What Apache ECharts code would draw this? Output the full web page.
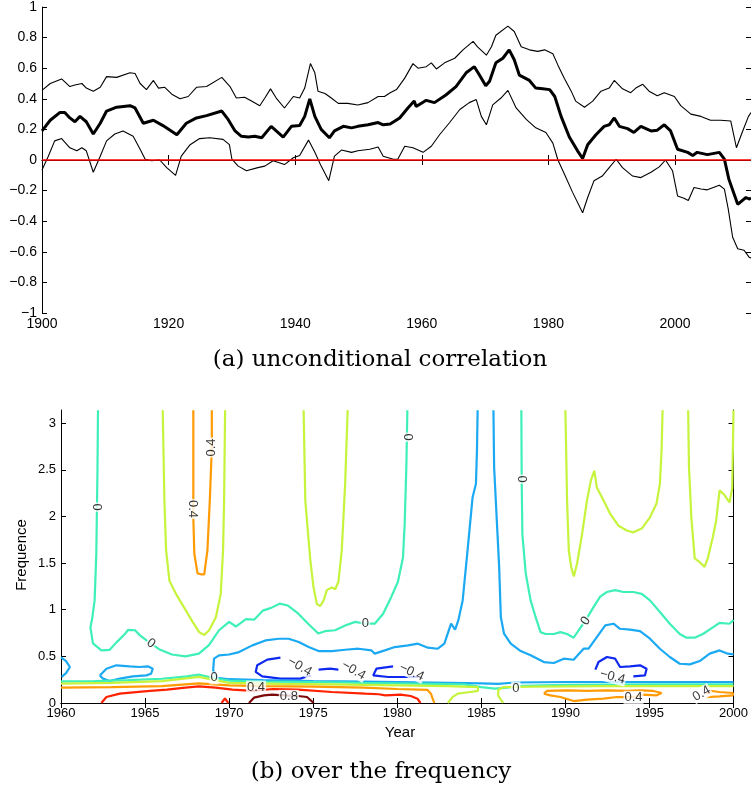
<!DOCTYPE html>
<html>
<head>
<meta charset="utf-8">
<script src="https://cdn.jsdelivr.net/npm/echarts/dist/echarts.min.js"></script>
<style>
  html, body { margin: 0; padding: 0; background: #fff; }
  #chart { width: 751px; height: 792px; }
</style>
</head>
<body>
<div id="chart"></div>
<script>
// ---- panel (a): unconditional correlation ----
const midYears = [1900,1901.3,1902.8,1903.6,1904.4,1905.2,1906,1907,1908.1,1909.2,1910.2,1911.8,1913.9,1914.7,1916,1917.6,1919.1,1921.3,1922.8,1924.4,1926,1928.4,1929.4,1930.5,1931.5,1932.6,1933.6,1934.7,1936.2,1937,1938.1,1939.4,1940.7,1941.5,1942.3,1943.1,1944.1,1945.4,1946.2,1947.6,1948.9,1949.9,1951.5,1953.1,1953.9,1955,1956.5,1957.8,1958.8,1959.1,1960.7,1962,1963.8,1965.4,1967,1968.3,1969.1,1970.1,1970.7,1971.7,1972.8,1973.8,1974.6,1975.4,1977,1978,1979.1,1980.2,1981,1982,1983.3,1984.6,1985.4,1986.2,1987.5,1988.8,1989.6,1990.4,1991.2,1992.5,1993.5,1994.6,1996.2,1997.2,1998.3,1999.3,2000.4,2002,2002.8,2003.5,2005.1,2007,2007.8,2008.5,2009.9,2010.6,2011.2,2011.7,2012];
const midVals = [0.19,0.26,0.31,0.31,0.275,0.25,0.285,0.25,0.17,0.24,0.32,0.345,0.355,0.34,0.24,0.26,0.225,0.165,0.24,0.275,0.29,0.32,0.265,0.19,0.155,0.15,0.155,0.145,0.22,0.19,0.15,0.22,0.225,0.285,0.4,0.285,0.2,0.145,0.19,0.22,0.21,0.22,0.23,0.245,0.23,0.235,0.275,0.34,0.385,0.35,0.39,0.375,0.425,0.48,0.57,0.61,0.555,0.485,0.515,0.635,0.665,0.72,0.655,0.555,0.52,0.47,0.465,0.46,0.415,0.285,0.15,0.06,0.01,0.1,0.165,0.22,0.23,0.275,0.22,0.205,0.18,0.22,0.19,0.195,0.23,0.19,0.07,0.05,0.03,0.05,0.035,0.05,0.005,-0.125,-0.29,-0.265,-0.245,-0.255,-0.25];

const upYears = [1900,1901.3,1903.1,1904.4,1905.2,1906.3,1907,1908.1,1909.2,1910.2,1911.8,1913.9,1914.7,1915.5,1916.5,1917.6,1918.4,1919.4,1920.5,1921.8,1923.1,1924.4,1926,1928.4,1929.7,1930.7,1932,1933.1,1934.4,1935.2,1936.1,1937,1938.3,1939.7,1940.7,1941.5,1942.4,1943.1,1943.6,1944.7,1945.7,1946.8,1948.3,1949.9,1951.5,1953.1,1954.1,1955,1956,1957.3,1958.6,1959.4,1960.7,1961.5,1962.3,1963.6,1965.2,1966.5,1968.1,1968.8,1970.2,1971,1971.7,1973.6,1974.6,1975.7,1977,1978.3,1979.4,1980.7,1981.5,1982.5,1983.6,1984.3,1985.7,1987,1988.3,1989.6,1990.4,1991.7,1993,1993.8,1994.9,1995.9,1997.2,1998.3,1999.9,2000.9,2002.5,2004.1,2005.6,2007.2,2008.8,2009.7,2010.6,2011.6,2012];
const upVals = [0.455,0.5,0.53,0.48,0.49,0.5,0.47,0.45,0.475,0.545,0.54,0.57,0.565,0.5,0.46,0.52,0.47,0.475,0.43,0.4,0.415,0.475,0.48,0.54,0.48,0.405,0.41,0.385,0.355,0.405,0.465,0.405,0.34,0.415,0.405,0.47,0.63,0.57,0.45,0.435,0.405,0.37,0.37,0.36,0.375,0.415,0.415,0.44,0.46,0.535,0.63,0.6,0.61,0.635,0.595,0.635,0.665,0.72,0.775,0.74,0.685,0.74,0.815,0.875,0.84,0.74,0.72,0.71,0.72,0.695,0.62,0.535,0.45,0.385,0.345,0.385,0.45,0.47,0.52,0.465,0.44,0.47,0.495,0.45,0.42,0.44,0.415,0.355,0.3,0.285,0.26,0.26,0.255,0.08,0.18,0.285,0.31];

const lowYears = [1900,1901,1902,1903.1,1904.4,1905.5,1906.3,1907,1908.1,1909.2,1910.2,1911.5,1912.8,1914.4,1915.5,1916.3,1917.3,1918.6,1919.7,1921.1,1922,1923.4,1924.9,1926.5,1928.6,1929.6,1930,1931,1932.3,1934.1,1935.2,1936.5,1937.6,1938.3,1939.7,1940.7,1942.1,1943.1,1944.1,1945.3,1946.2,1947.3,1948.9,1949.9,1951.8,1953.1,1953.9,1955.5,1956.2,1957.3,1958.6,1960.2,1961.5,1962.8,1964.4,1966,1967.5,1968.6,1969.4,1970.2,1971.2,1972.5,1973.6,1974.9,1976.5,1978,1979.6,1980.7,1981.5,1982.5,1983.8,1985.4,1986.2,1987.2,1988.5,1989.6,1990.7,1991.7,1993.3,1994.6,1996.2,1997.5,1998.5,1999.6,2000.4,2001.4,2002.1,2003,2004.1,2005.1,2007,2007.8,2008.4,2009.1,2009.9,2010.9,2011.7,2012];
const lowVals = [-0.065,0.025,0.125,0.14,0.08,0.06,0.08,0.06,-0.08,0.025,0.125,0.17,0.19,0.155,0.07,0.005,-0.005,0,-0.05,-0.1,0.025,0.1,0.14,0.145,0.135,0.1,0.005,-0.04,-0.07,-0.05,-0.04,-0.005,-0.02,-0.03,0.015,0.03,0.13,0.05,-0.04,-0.135,0.025,0.065,0.05,0.06,0.07,0.085,0.025,0.005,0.005,0.09,0.08,0.05,0.09,0.165,0.245,0.33,0.375,0.395,0.285,0.23,0.36,0.405,0.455,0.34,0.265,0.21,0.18,0.11,0,-0.09,-0.21,-0.345,-0.245,-0.135,-0.105,-0.05,0.005,-0.05,-0.105,-0.115,-0.08,-0.045,0,-0.07,-0.235,-0.25,-0.265,-0.18,-0.19,-0.195,-0.165,-0.19,-0.32,-0.505,-0.58,-0.59,-0.635,-0.64];

const xTicksA = [1900, 1920, 1940, 1960, 1980, 2000];
const yTicksA = [-1, -0.8, -0.6, -0.4, -0.2, 0, 0.2, 0.4, 0.6, 0.8, 1];

// ---- panel (b): contour lines over the frequency, [year, frequency] ----
const lvlNeg04 = [
  [[1973.05,0.486],[1972.27,0.465],[1971.67,0.404],[1971.58,0.333],[1971.97,0.286],[1973.05,0.261],[1974.24,0.261],[1974.83,0.297]],
  [[1975.32,0.357],[1976.0,0.368],[1976.5,0.357]],
  [[1979.75,0.393],[1978.76,0.368],[1978.57,0.296],[1979.45,0.279],[1981.23,0.279]],
  [[1991.78,0.357],[1991.97,0.44],[1992.47,0.493],[1992.96,0.475],[1993.25,0.386],[1993.85,0.393],[1994.44,0.404],[1994.83,0.368],[1994.73,0.296],[1994.04,0.286]]
];
const lvlNeg02 = [
  [[2000,0.225],[1995,0.225],[1990,0.225],[1987,0.22],[1986,0.205],[1985,0.21],[1982,0.22],[1978,0.23],[1975,0.235],[1972,0.245],[1970,0.255],[1969.3,0.27],[1969.05,0.35],[1969.1,0.475],[1969.4,0.51],[1970.0,0.52],[1970.59,0.546],[1971.38,0.618],[1972.16,0.671],[1972.95,0.689],[1973.54,0.689],[1974.14,0.654],[1974.73,0.6],[1975.32,0.557],[1976.11,0.557],[1976.9,0.571],[1977.69,0.582],[1978.47,0.564],[1978.66,0.529],[1979.26,0.564],[1979.85,0.6],[1980.64,0.618],[1981.23,0.636],[1981.82,0.593],[1982.41,0.582],[1982.8,0.636],[1983.0,0.743],[1983.2,0.85],[1983.44,0.786],[1983.63,0.886],[1983.89,1.1],[1984.18,1.636],[1984.48,2.207],[1984.68,2.35],[1984.74,2.707],[1984.78,3.14]],
  [[1985.72,3.14],[1985.76,2.53],[1986.06,1.457],[1986.16,0.921],[1986.35,0.743],[1986.75,0.636],[1987.34,0.557],[1987.93,0.511],[1988.72,0.439],[1989.31,0.429],[1989.9,0.475],[1990.49,0.464],[1991.08,0.582],[1991.38,0.582],[1991.87,0.707],[1992.37,0.832],[1992.86,0.85],[1993.25,0.796],[1993.85,0.786],[1994.44,0.771],[1995.03,0.689],[1995.62,0.582],[1996.21,0.493],[1996.8,0.421],[1997.4,0.414],[1997.99,0.45],[1998.58,0.529],[1999.17,0.564],[1999.66,0.529],[2000,0.521]],
  [[1960,0.49],[1960.3,0.45],[1960.53,0.386],[1960.3,0.32],[1960.04,0.28]],
  [[1962.31,0.296],[1962.7,0.368],[1963.29,0.404],[1964.08,0.393],[1964.67,0.386],[1965.17,0.393],[1965.46,0.368],[1965.36,0.314],[1965.07,0.296],[1964.28,0.286],[1963.49,0.261],[1962.9,0.236],[1962.5,0.261],[1962.31,0.296]]
];
const lvlZero = [
  [[1962.2,3.14],[1962.17,2.5],[1962.1,1.6],[1962.0,1.1],[1961.85,0.9],[1961.75,0.81],[1961.9,0.64],[1962.4,0.565],[1962.9,0.57],[1963.3,0.65],[1963.8,0.74],[1964.0,0.785],[1964.4,0.78],[1964.7,0.725],[1965.2,0.655],[1965.9,0.57],[1966.6,0.52],[1967.4,0.5],[1968.2,0.53],[1968.8,0.62],[1969.4,0.78],[1970.0,0.87],[1970.4,0.82],[1971.0,0.9],[1971.5,0.895],[1972.0,0.99],[1972.5,1.02],[1973.0,1.065],[1973.5,1.045],[1974.1,0.96],[1974.7,0.85],[1975.3,0.745],[1975.7,0.77],[1976.3,0.78],[1976.9,0.83],[1977.5,0.87],[1978.1,0.85],[1978.66,0.85],[1979.16,0.957],[1979.65,1.14],[1980.04,1.3],[1980.34,1.56],[1980.44,1.92],[1980.54,2.53],[1980.6,3.14]],
  [[1987.38,3.14],[1987.4,2.4],[1987.44,1.81],[1987.64,1.39],[1987.93,1.1],[1988.23,0.92],[1988.52,0.76],[1988.82,0.74],[1989.31,0.74],[1989.7,0.76],[1990.1,0.74],[1990.49,0.7],[1990.79,0.78],[1991.18,0.88],[1991.68,1.03],[1992.07,1.14],[1992.47,1.19],[1992.96,1.21],[1993.45,1.19],[1994.04,1.19],[1994.54,1.17],[1995.03,1.1],[1995.62,0.975],[1996.21,0.85],[1996.8,0.74],[1997.2,0.7],[1997.69,0.7],[1998.18,0.74],[1998.77,0.81],[1999.17,0.86],[1999.76,0.85],[2000,0.89]],
  [[1960,0.232],[1962,0.235],[1964,0.245],[1966,0.26],[1967.5,0.285],[1968.2,0.305],[1969,0.27],[1970,0.24],[1972,0.23],[1975,0.225],[1978,0.215],[1980,0.21],[1982,0.205],[1984,0.2],[1985,0.17],[1985.8,0.155],[1986.5,0.165],[1987.5,0.185],[1990,0.195],[1995,0.2],[2000,0.2]]
];
const lvl02 = [
  [[1966.05,3.14],[1966.15,2.17],[1966.25,1.64],[1966.45,1.31],[1966.84,1.17],[1967.43,0.99],[1967.83,0.87],[1968.22,0.76],[1968.52,0.73],[1968.81,0.78],[1969.21,0.92],[1969.5,1.17],[1969.64,1.64],[1969.7,2.17],[1969.76,3.14]],
  [[1974.43,3.14],[1974.53,2.17],[1974.83,1.53],[1975.02,1.24],[1975.22,1.06],[1975.42,1.04],[1975.62,1.1],[1975.81,1.21],[1976.11,1.24],[1976.31,1.22],[1976.5,1.3],[1976.7,1.64],[1976.9,2.35],[1977.05,3.14]],
  [[1990.0,3.14],[1990.1,2.17],[1990.2,1.64],[1990.34,1.46],[1990.5,1.357],[1990.69,1.49],[1990.99,1.81],[1991.28,2.17],[1991.52,2.39],[1991.72,2.49],[1991.87,2.31],[1992.27,2.17],[1992.66,2.03],[1993.16,1.9],[1993.65,1.85],[1994.04,1.83],[1994.54,1.87],[1995.03,1.99],[1995.42,2.14],[1995.62,2.35],[1995.72,2.71],[1995.78,3.14]],
  [[1997.3,3.14],[1997.35,2.53],[1997.49,1.99],[1997.69,1.55],[1997.99,1.51],[1998.28,1.46],[1998.48,1.56],[1998.77,1.78],[1998.97,1.96],[1999.17,2.28],[1999.46,2.23],[1999.76,2.15],[1999.92,2.3],[2000,3.14]],
  [[1960,0.207],[1963,0.215],[1966,0.235],[1968.2,0.28],[1969,0.25],[1970,0.215],[1973,0.205],[1976,0.2],[1980,0.19],[1983,0.18],[1984.8,0.17],[1984.8,0.13],[1984,0.11],[1983.6,0.1],[1983.3,0.065],[1983.0,0]],
  [[1986.3,0],[1986.0,0.08],[1986.0,0.14],[1986.3,0.17],[1988,0.175],[1992,0.18],[1996,0.18],[2000,0.18]]
];
const lvl04 = [
  [[1967.87,3.14],[1967.87,1.99],[1967.93,1.6],[1968.12,1.39],[1968.32,1.38],[1968.52,1.38],[1968.71,1.64],[1968.85,2.17],[1968.97,2.74],[1968.97,3.14]],
  [[1960,0.164],[1963,0.17],[1966,0.18],[1968.2,0.21],[1970,0.19],[1972,0.18],[1975,0.175],[1978,0.165],[1980,0.15],[1981.8,0.14],[1982.0,0.1],[1982.2,0]],
  [[1988.72,0.1],[1988.9,0.129],[1990.1,0.136],[1991.29,0.129],[1992.47,0.136],[1993.65,0.129],[1994.44,0.136],[1995.23,0.129],[1995.72,0.107],[1995.43,0.082],[1994.64,0.09],[1994.05,0.064],[1993.06,0.064],[1992.27,0.046],[1991.29,0.036],[1990.5,0.021],[1989.7,0.064],[1989.1,0.082],[1988.72,0.1]],
  [[1998.4,0.1],[1998.68,0.129],[1999.17,0.118],[1999.96,0.107],[1999.96,0.082],[1999.17,0.071],[1998.4,0.064]]
];
const lvl06 = [
  [[1962.4,0],[1962.7,0.064],[1963.5,0.1],[1964.3,0.114],[1965.3,0.129],[1966.3,0.143],[1967.4,0.164],[1968.2,0.179],[1969.2,0.164],[1970.2,0.143],[1971.4,0.129],[1972.6,0.15],[1974.1,0.143],[1976.1,0.118],[1978.1,0.1],[1978.9,0.094],[1979.3,0.082],[1980.2,0.09],[1980.8,0.075],[1981.2,0.046],[1981.38,0]],
  [[1969.55,0],[1969.75,0.05],[1969.95,0]]
];
const lvl08 = [
  [[1971.18,0],[1971.48,0.057],[1972.07,0.082],[1972.56,0.089],[1973.0,0.085],[1974.1,0.075],[1974.63,0.064],[1975.03,0]]
];

const labelX = [1962.1, 1965.35, 1967.85, 1968.97, 1978.1, 1980.6, 1987.4, 1991.2, 1969.1, 1971.6, 1973.55, 1974.2, 1977.4, 1980.85, 1992.8, 1987.05, 1994.05, 1998.1];
const labelY = [2.1, 0.64, 2.08, 2.74, 0.85, 2.85, 2.4, 0.88, 0.27, 0.17, 0.071, 0.39, 0.35, 0.33, 0.28, 0.16, 0.06, 0.1];
const labelText = ['0', '0', '0.4', '0.4', '0', '0', '0', '0', '0', '0.4', '0.8', '\u22120.4', '\u22120.4', '\u22120.4', '\u22120.4', '0', '0.4', '0.4'];
const labelRot = [-90, -35, -90, 90, 0, -90, -90, 55, 0, 0, 0, -30, -30, -25, -15, 0, 0, 30];

const xTicksB = [1960, 1965, 1970, 1975, 1980, 1985, 1990, 1995, 2000];
const yTicksB = [0, 0.5, 1, 1.5, 2, 2.5, 3];

const levelColors = {
  neg04: '#1029f0',
  neg02: '#1aa9f2',
  zero: '#3ef0b8',
  p02: '#c6f43c',
  p04: '#ff9b05',
  p06: '#ff2200',
  p08: '#7d0a0a'
};

const chart = echarts.init(document.getElementById('chart'), null, { renderer: 'canvas' });

const fmt = v => (v < 0 ? '\u2212' : '') + String(Math.abs(v));
const tickFont = { color: '#000', fontFamily: 'Liberation Sans, Arial, sans-serif' };

function boxAxes(gridIndex, min, max, ticksX, ticksY, ymin, ymax, fontSize) {
  return {
    x: [
      {
        type: 'value', gridIndex, position: 'bottom', min, max,
        axisLine: { lineStyle: { color: '#000', width: 1 } },
        axisTick: { inside: true, length: 5, customValues: ticksX, lineStyle: { color: '#000' } },
        axisLabel: Object.assign({ customValues: ticksX, fontSize, margin: 4, formatter: v => String(v) }, tickFont),
        splitLine: { show: false }
      },
      {
        type: 'value', gridIndex, position: 'top', min, max,
        axisLine: { lineStyle: { color: '#000', width: 1 } },
        axisTick: { inside: true, length: 5, customValues: ticksX, lineStyle: { color: '#000' } },
        axisLabel: { show: false },
        splitLine: { show: false }
      }
    ],
    y: [
      {
        type: 'value', gridIndex, position: 'left', min: ymin, max: ymax,
        axisLine: { show: true, lineStyle: { color: '#000', width: 1 } },
        axisTick: { show: true, inside: true, length: 5, customValues: ticksY, lineStyle: { color: '#000' } },
        axisLabel: Object.assign({ customValues: ticksY, fontSize, margin: 5, formatter: fmt }, tickFont),
        splitLine: { show: false }
      },
      {
        type: 'value', gridIndex, position: 'right', min: ymin, max: ymax,
        axisLine: { show: true, lineStyle: { color: '#000', width: 1 } },
        axisTick: { show: true, inside: true, length: 5, customValues: ticksY, lineStyle: { color: '#000' } },
        axisLabel: { show: false },
        splitLine: { show: false }
      }
    ]
  };
}

const axA = boxAxes(0, 1900, 2012, xTicksA, yTicksA, -1, 1, 14);
const axB = boxAxes(1, 1960, 2000, xTicksB, yTicksB, 0, Math.PI, 13);

const zip = (xs, ys) => xs.map((x, i) => [x, ys[i]]);

const series = [
  {
    type: 'line', xAxisIndex: 0, yAxisIndex: 0, data: zip(upYears, upVals),
    showSymbol: false, symbol: 'none', lineStyle: { color: '#000', width: 1.1 }
  },
  {
    type: 'line', xAxisIndex: 0, yAxisIndex: 0, data: zip(lowYears, lowVals),
    showSymbol: false, symbol: 'none', lineStyle: { color: '#000', width: 1.1 }
  },
  {
    type: 'line', xAxisIndex: 0, yAxisIndex: 0, data: zip(midYears, midVals),
    showSymbol: false, symbol: 'none', lineStyle: { color: '#000', width: 3 },
    markLine: {
      silent: true, symbol: 'none', label: { show: false },
      lineStyle: { color: '#ff0000', width: 1.5, type: 'solid' },
      data: [{ yAxis: 0 }]
    }
  }
];

const levels = [
  [lvlNeg04, levelColors.neg04],
  [lvlNeg02, levelColors.neg02],
  [lvlZero, levelColors.zero],
  [lvl02, levelColors.p02],
  [lvl04, levelColors.p04],
  [lvl06, levelColors.p06],
  [lvl08, levelColors.p08]
];
levels.forEach(([lines, color]) => {
  lines.forEach(pts => {
    series.push({
      type: 'line', xAxisIndex: 2, yAxisIndex: 2, data: pts,
      showSymbol: false, symbol: 'none', lineStyle: { color, width: 2.2 }
    });
  });
});

series.push({
  type: 'scatter', xAxisIndex: 2, yAxisIndex: 2, symbolSize: 0, z: 10,
  data: labelX.map((x, i) => ({
    value: [x, labelY[i]],
    label: { formatter: labelText[i], rotate: labelRot[i] }
  })),
  label: {
    show: true, position: 'inside', color: '#000', fontSize: 13,
    fontFamily: 'Liberation Sans, Arial, sans-serif',
    backgroundColor: '#fff', padding: [0, 1]
  }
});

chart.setOption({
  animation: false,
  backgroundColor: '#fff',
  grid: [
    { left: 42, top: 5, width: 710, height: 308 },
    { left: 61, top: 410, width: 676, height: 293 }
  ],
  xAxis: axA.x.concat(axB.x),
  yAxis: axA.y.concat(axB.y),
  series,
  graphic: [
    {
      type: 'text', x: 380, y: 360,
      style: { text: '(a) unconditional correlation', font: '23px "DejaVu Serif", serif', fill: '#000', align: 'center', verticalAlign: 'middle' }
    },
    {
      type: 'text', x: 381, y: 772,
      style: { text: '(b) over the frequency', font: '23px "DejaVu Serif", serif', fill: '#000', align: 'center', verticalAlign: 'middle' }
    },
    {
      type: 'text', x: 400, y: 733,
      style: { text: 'Year', font: '15px "Liberation Sans", Arial, sans-serif', fill: '#000', align: 'center', verticalAlign: 'middle' }
    },
    {
      type: 'text', x: 22, y: 555, rotation: Math.PI / 2,
      style: { text: 'Frequence', font: '15px "Liberation Sans", Arial, sans-serif', fill: '#000', align: 'center', verticalAlign: 'middle' }
    }
  ]
});
</script>
</body>
</html>
